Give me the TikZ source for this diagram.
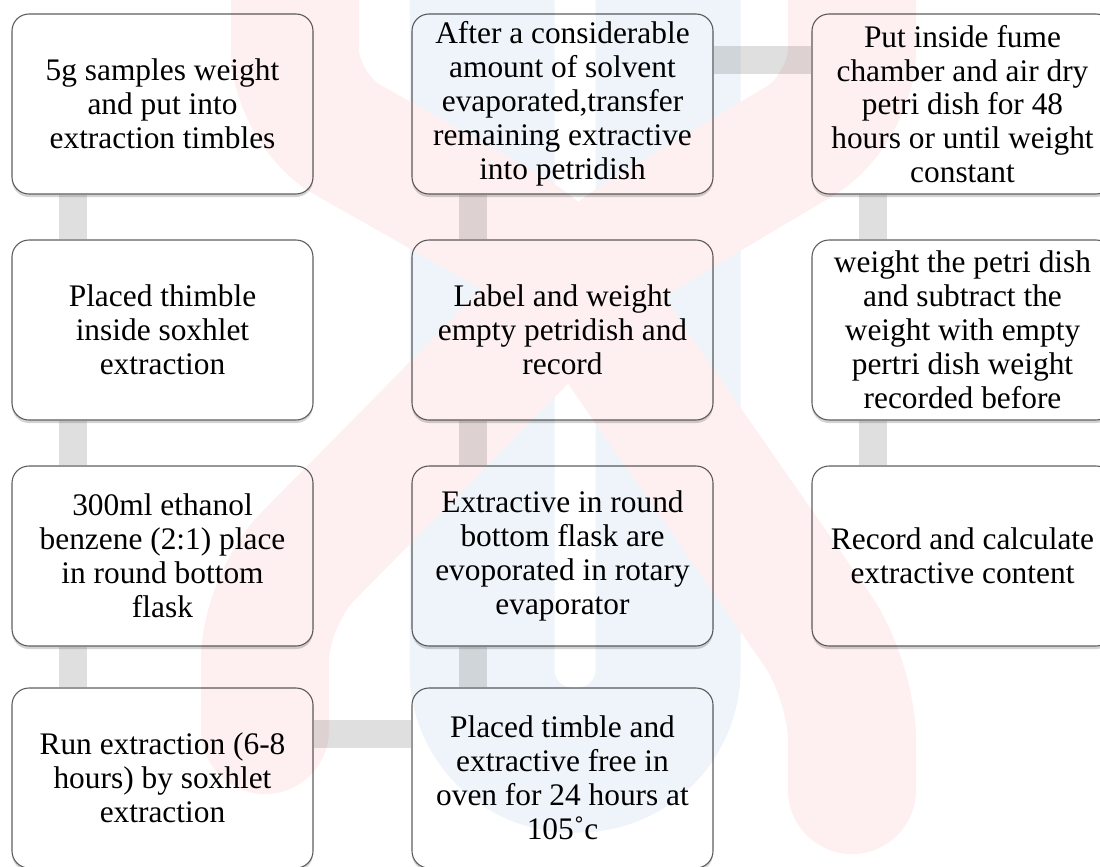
\documentclass[tikz,border=0pt]{standalone}
\usepackage{fontspec}
\setmainfont{Liberation Serif}
\usepackage{tikz}
\usetikzlibrary{shadows,backgrounds}
\definecolor{linkgray}{RGB}{223,223,223}
\definecolor{boxline}{RGB}{95,95,95}
\definecolor{markred}{RGB}{254,240,240}
\definecolor{markblue}{RGB}{238,244,249}

\begin{document}
\begin{tikzpicture}[
  stepbox/.style={draw=boxline,line width=1.1bp,rounded corners=17bp,fill=white,
    minimum width=301bp,minimum height=180bp,inner sep=0bp,align=center,
    font=\fontsize{31.5}{34}\selectfont,
    drop shadow={shadow xshift=0bp,shadow yshift=-3bp,opacity=0.35}},
  link/.style={line width=28bp,draw=linkgray}]
\useasboundingbox (0bp,0bp) rectangle (1100bp,-867bp);
% first column, top to bottom
\node (b1) at (162.5bp,-104bp)[stepbox] {5g samples weight\\and put into\\extraction timbles};
\node (b2) at (162.5bp,-330bp)[stepbox] {Placed thimble\\inside soxhlet\\extraction};
\node (b3) at (162.5bp,-556bp)[stepbox] {300ml ethanol\\benzene (2:1) place\\in round bottom\\flask};
\node (b4) at (162.5bp,-778bp)[stepbox] {Run extraction (6-8\\hours) by soxhlet\\extraction};
% second column, bottom to top
\node (b5) at (562.5bp,-778bp)[stepbox] {Placed timble and\\extractive free in\\oven for 24 hours at\\105˚c};
\node (b6) at (562.5bp,-556bp)[stepbox] {Extractive in round\\bottom flask are\\evoporated in rotary\\evaporator};
\node (b7) at (562.5bp,-330bp)[stepbox] {Label and weight\\empty petridish and\\record};
\node (b8) at (562.5bp,-104bp)[stepbox] {After a considerable\\amount of solvent\\evaporated,transfer\\remaining extractive\\into petridish};
% third column, top to bottom
\node (b9) at (962.5bp,-104bp)[stepbox] {Put inside fume\\chamber and air dry\\petri dish for 48\\hours or until weight\\constant};
\node (b10) at (962.5bp,-330bp)[stepbox] {weight the petri dish\\and subtract the\\weight with empty\\pertri dish weight\\recorded before};
\node (b11) at (962.5bp,-556bp)[stepbox] {Record and calculate\\extractive content};
\begin{pgfonlayer}{background}
\foreach \up/\down in {b1/b2,b2/b3,b3/b4,b8/b7,b7/b6,b6/b5,b9/b10,b10/b11}
  \draw[link] ([xshift=62bp]\up.south west) -- ([xshift=62bp]\down.north west);
\draw[link] ([yshift=-47bp]b4.north east) -- ([yshift=-47bp]b5.north west);
\draw[link] ([yshift=-47bp]b8.north east) -- ([yshift=-47bp]b9.north west);
\end{pgfonlayer}
% faint logo over the page
\begin{scope}[transparency group,blend mode=multiply]
\draw[markblue,line width=145bp,rounded corners=90bp] (482bp,60bp) -- (482bp,-760bp) -- (668bp,-760bp) -- (668bp,60bp);
\draw[markred,line width=128bp,line cap=round,rounded corners=60bp]
  (295bp,80bp) -- (295bp,-110bp) -- (560bp,-260bp) -- (852bp,-680bp) -- (852bp,-790bp)
  (852bp,80bp) -- (852bp,-110bp) -- (600bp,-260bp) -- (265bp,-600bp) -- (265bp,-730bp);
\end{scope}
\end{tikzpicture}
\end{document}
